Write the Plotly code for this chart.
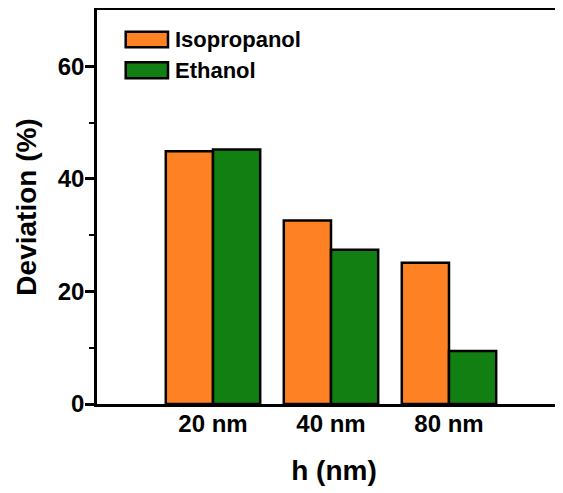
import plotly.graph_objects as go

categories = ["20 nm", "40 nm", "80 nm"]
isopropanol = [44.9, 32.6, 25.1]
ethanol = [45.2, 27.4, 9.4]
y_ticks = [0, 20, 40, 60]
series_names = ["Isopropanol", "Ethanol"]
series_colors = ["#FE8224", "#117F11"]

FONT = "Liberation Sans, Arial, sans-serif"

fig = go.Figure()
for name, vals, col in zip(series_names, [isopropanol, ethanol], series_colors):
    fig.add_trace(go.Bar(x=categories, y=vals, name=name, showlegend=False,
                         marker=dict(color=col, line=dict(color="black", width=2.5))))

# plot area: 474 px wide; keep 118 px per category
PW = 474.0
def px(sx):
    return (sx - 97) / PW

leg_y = [(0.9053, 0.945), (0.8266, 0.8673)]
for (y0, y1), name, col in zip(leg_y, series_names, series_colors):
    fig.add_shape(type="rect", xref="paper", yref="paper", x0=px(125.7), x1=px(168), y0=y0, y1=y1,
                  fillcolor=col, line=dict(color="black", width=2.5))
    fig.add_annotation(xref="paper", yref="paper", x=px(173), y=(y0 + y1) / 2, text=name,
                       showarrow=False, xanchor="left", yanchor="middle",
                       font=dict(size=22, family=FONT, weight="bold", color="black"))

fig.update_layout(
    width=563, height=493,
    margin=dict(l=89, r=0, t=2, b=97),
    plot_bgcolor="white", paper_bgcolor="white",
    barmode="group", bargap=0.2, bargroupgap=0,
    font=dict(family=FONT, color="black"),
    showlegend=False,
    xaxis=dict(
        range=[-0.983, -0.983 + PW / 118.0], automargin=False,
        showline=True, linecolor="black", linewidth=2.5, mirror=True,
        ticks="", showgrid=False, ticklabelstandoff=-4,
        tickfont=dict(size=24, family=FONT, weight="bold"),
        title=dict(text="h (nm)", font=dict(size=28, family=FONT, weight="bold"), standoff=25),
    ),
    yaxis=dict(
        range=[0, 70], automargin=False,
        tickvals=y_ticks,
        showline=True, linecolor="black", linewidth=2.5, mirror=False,
        ticks="outside", ticklen=9, tickwidth=2.5, tickcolor="black", ticklabelstandoff=-4,
        minor=dict(tickvals=[10, 30, 50], ticks="outside", ticklen=5, tickwidth=2, tickcolor="black"),
        showgrid=False, zeroline=False,
        tickfont=dict(size=24, family=FONT, weight="bold"),
        title=dict(text="Deviation (%)", font=dict(size=28, family=FONT, weight="bold"), standoff=13),
    ),
)

fig.write_html("out.html")
